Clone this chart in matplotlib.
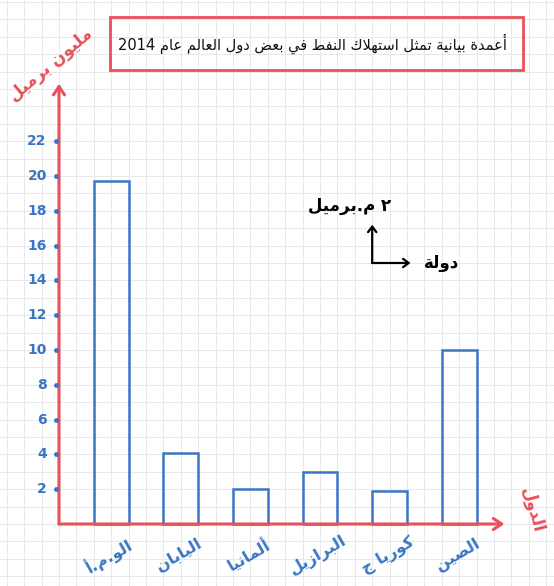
import matplotlib as mpl
mpl.use('Agg')
import matplotlib.pyplot as plt
from matplotlib.patches import Rectangle, FancyArrowPatch

# data
countries = ['الو.م.أ', 'اليابان', 'ألمانيا', 'البرازيل', 'كوريا ج', 'الصين']
consumption = [19.7, 4.1, 2.0, 3.0, 1.9, 10.0]
yticks = [2, 4, 6, 8, 10, 12, 14, 16, 18, 20, 22]
title = 'أعمدة بيانية تمثل استهلاك النفط في بعض دول العالم عام 2014'
ylabel = 'مليون برميل'
xlabel = 'الدول'
key_y = '٢ م.برميل'
key_x = 'دولة'

RED = '#e8505a'
BLUE = '#3a76c4'

# --- tiny arabic shaper (matplotlib does no joining / bidi) ---
FOUR = {'ئ': 0xFE89, 'ب': 0xFE8F, 'ت': 0xFE95, 'ث': 0xFE99, 'ج': 0xFE9D, 'ح': 0xFEA1,
        'خ': 0xFEA5, 'س': 0xFEB1, 'ش': 0xFEB5, 'ص': 0xFEB9, 'ض': 0xFEBD, 'ط': 0xFEC1,
        'ظ': 0xFEC5, 'ع': 0xFEC9, 'غ': 0xFECD, 'ف': 0xFED1, 'ق': 0xFED5, 'ك': 0xFED9,
        'ل': 0xFEDD, 'م': 0xFEE1, 'ن': 0xFEE5, 'ه': 0xFEE9, 'ي': 0xFEF1}
TWO = {'آ': 0xFE81, 'أ': 0xFE83, 'ؤ': 0xFE85, 'إ': 0xFE87, 'ا': 0xFE8D, 'ة': 0xFE93,
       'د': 0xFEA9, 'ذ': 0xFEAB, 'ر': 0xFEAD, 'ز': 0xFEAF, 'و': 0xFEED, 'ى': 0xFEEF}
LAMALEF = {'آ': 0xFEF5, 'أ': 0xFEF7, 'إ': 0xFEF9, 'ا': 0xFEFB}


def shape(s):
    chars = list(s)
    # lam-alef ligatures first
    items = []
    i = 0
    while i < len(chars):
        c = chars[i]
        if c == 'ل' and i + 1 < len(chars) and chars[i + 1] in LAMALEF:
            items.append(('LA', chars[i + 1]))
            i += 2
        else:
            items.append(('C', c))
            i += 1

    def joins_next(it):
        return it[0] == 'C' and it[1] in FOUR

    def is_letter(it):
        return it[0] == 'LA' or it[1] in FOUR or it[1] in TWO

    out = []
    for k, it in enumerate(items):
        prev_j = k > 0 and joins_next(items[k - 1])
        nxt = k + 1 < len(items) and is_letter(items[k + 1])
        if it[0] == 'LA':
            out.append(chr(LAMALEF[it[1]] + (1 if prev_j else 0)))
        elif it[1] in FOUR:
            b = FOUR[it[1]]
            if prev_j and nxt:
                out.append(chr(b + 3))
            elif prev_j:
                out.append(chr(b + 1))
            elif nxt:
                out.append(chr(b + 2))
            else:
                out.append(chr(b))
        elif it[1] in TWO:
            out.append(chr(TWO[it[1]] + (1 if prev_j else 0)))
        else:
            out.append(it[1])
    vis = ''.join(out)[::-1]
    # put digit runs back in left-to-right order
    res, run = '', ''
    for c in vis:
        if c.isdigit() and c.isascii():
            run += c
        else:
            res += run[::-1] + c
            run = ''
    return res + run[::-1]


fig = plt.figure(figsize=(5.54, 5.86), dpi=100)
ax = fig.add_axes([0, 0, 1, 1])
cell = 17.4
ax.set_xlim(-59 / cell, (554 - 59) / cell)
ax.set_ylim(-(586 - 524) / cell, 524 / cell)
ax.axis('off')

# grid paper
x0, x1 = ax.get_xlim()
y0, y1 = ax.get_ylim()
for gx in range(int(x0) - 1, int(x1) + 2):
    ax.axvline(gx, color='#e6e8ea', lw=0.7, zorder=0)
for gy in range(int(y0) - 1, int(y1) + 2):
    ax.axhline(gy, color='#e6e8ea', lw=0.7, zorder=0)

# bars drawn as open rectangles
xs = [2 + 4 * i for i in range(len(countries))]
ax.bar([x + 1 for x in xs], consumption, width=2, fill=False,
       edgecolor=BLUE, linewidth=1.8, zorder=2)

# axes with arrows
ax.add_patch(FancyArrowPatch((0, 0), (0, 25.3), arrowstyle='->,head_length=6,head_width=4',
                             color=RED, lw=2.2, zorder=3, shrinkA=0, shrinkB=0))
ax.add_patch(FancyArrowPatch((0, 0), (25.6, 0), arrowstyle='->,head_length=6,head_width=4',
                             color=RED, lw=2.2, zorder=3, shrinkA=0, shrinkB=0))

# ticks
ax.plot([-0.15] * len(yticks), yticks, 'o', color=BLUE, ms=2.5, zorder=4)
for v in yticks:
    ax.text(-0.7, v, str(v), ha='right', va='center', color=BLUE,
            fontsize=10, fontweight='bold')

# category labels
for x, name in zip(xs, countries):
    ax.text(x + 0.9, -1.8, shape(name), ha='center', va='center', rotation=30,
            color=BLUE, fontsize=11.5, fontweight='bold')

# axis names
ax.text(-0.5, 26.4, shape(ylabel), ha='center', va='center', rotation=40,
        color=RED, fontsize=12, fontweight='bold')
ax.text(27.2, 0.8, shape(xlabel), ha='center', va='center', rotation=-75,
        color=RED, fontsize=12, fontweight='bold')

# key
ax.add_patch(FancyArrowPatch((18, 15), (18, 17.2), arrowstyle='->,head_length=4,head_width=3',
                             color='black', lw=1.6, shrinkA=0, shrinkB=0))
ax.add_patch(FancyArrowPatch((18, 15), (20.2, 15), arrowstyle='->,head_length=4,head_width=3',
                             color='black', lw=1.6, shrinkA=0, shrinkB=0))
ax.text(16.7, 18.3, shape(key_y), ha='center', va='center', fontsize=12, fontweight='bold')
ax.text(22.0, 15.0, shape(key_x), ha='center', va='center', fontsize=12, fontweight='bold')

# title box
bx0, by0 = (110 - 59) / cell, (524 - 70) / cell
ax.add_patch(Rectangle((bx0, by0), (523 - 110) / cell, (70 - 17) / cell, fill=False,
                       edgecolor=RED, lw=2, zorder=3))
ax.text((312 - 59) / cell, (524 - 44) / cell, shape(title), ha='center', va='center',
        fontsize=10.5, color='#111111')

fig.savefig('out.png', dpi=100)
